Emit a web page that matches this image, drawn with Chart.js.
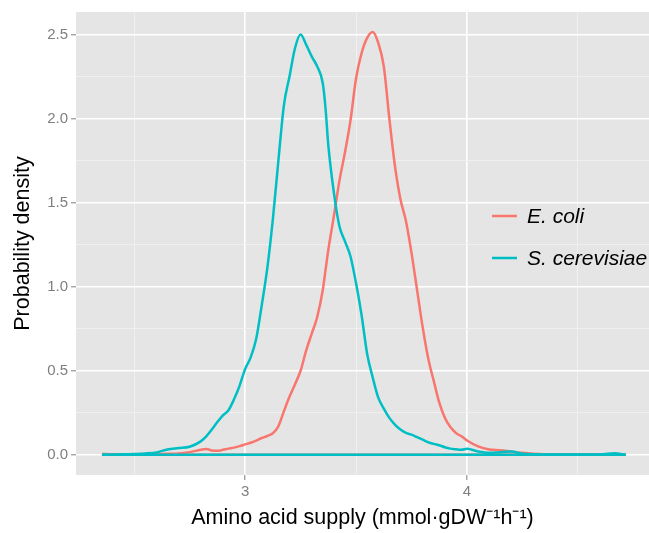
<!DOCTYPE html>
<html>
<head>
<meta charset="utf-8">
<script src="https://cdn.jsdelivr.net/npm/chart.js@4.4.1/dist/chart.umd.min.js"></script>
<style>
  html, body { margin: 0; padding: 0; background: #fff; }
  #wrap { width: 649px; height: 533px; }
</style>
</head>
<body>
<div id="wrap"><canvas id="densityChart"></canvas></div>
<script>
// amino acid supply grid (mmol/gDW/h) and the two density curves
const supplyValues = [
  2.355, 2.40, 2.45, 2.50, 2.55, 2.60, 2.65, 2.70, 2.75, 2.80,
  2.825, 2.85, 2.875, 2.90, 2.925, 2.95, 2.975, 3.00, 3.025, 3.05,
  3.075, 3.10, 3.125, 3.15, 3.175, 3.20, 3.225, 3.25, 3.275, 3.30,
  3.325, 3.35, 3.3625, 3.375, 3.40, 3.425, 3.45, 3.475, 3.50, 3.525, 3.55,
  3.575, 3.60, 3.625, 3.65, 3.675, 3.70, 3.725, 3.75, 3.775, 3.80,
  3.825, 3.85, 3.875, 3.90, 3.925, 3.95, 3.975, 4.00, 4.05, 4.10,
  4.15, 4.20, 4.25, 4.30, 4.35, 4.40, 4.45, 4.50, 4.55, 4.60,
  4.665, 4.715
];

const ecoliDensity = [
  0.005, 0.004, 0.003, 0.003, 0.004, 0.005, 0.006, 0.008, 0.016, 0.030,
  0.035, 0.026, 0.024, 0.030, 0.037, 0.043, 0.052, 0.062, 0.072, 0.085,
  0.100, 0.112, 0.128, 0.170, 0.260, 0.345, 0.420, 0.500, 0.620, 0.720,
  0.820, 0.980, 1.100, 1.220, 1.420, 1.630, 1.800, 1.990, 2.240, 2.390, 2.480,
  2.515, 2.450, 2.310, 2.000, 1.720, 1.520, 1.390, 1.200, 0.980, 0.760,
  0.575, 0.440, 0.310, 0.220, 0.165, 0.130, 0.110, 0.085, 0.050, 0.032,
  0.027, 0.019, 0.012, 0.007, 0.004, 0.003, 0.003, 0.003, 0.003, 0.003,
  0.002, 0.002
];

const yeastDensity = [
  0.000, 0.000, 0.003, 0.005, 0.008, 0.014, 0.032, 0.040, 0.048, 0.080,
  0.110, 0.150, 0.195, 0.235, 0.265, 0.330, 0.410, 0.510, 0.580, 0.690,
  0.890, 1.110, 1.400, 1.750, 2.080, 2.250, 2.420, 2.500, 2.440, 2.370,
  2.310, 2.210, 2.060, 1.840, 1.560, 1.360, 1.270, 1.180, 1.020, 0.830, 0.600,
  0.460, 0.340, 0.275, 0.220, 0.180, 0.150, 0.130, 0.120, 0.105, 0.090,
  0.075, 0.065, 0.057, 0.045, 0.037, 0.033, 0.030, 0.036, 0.020, 0.012,
  0.016, 0.020, 0.007, 0.003, 0.002, 0.002, 0.002, 0.002, 0.002, 0.002,
  0.010, 0.000
];

const seriesNames = ['E. coli', 'S. cerevisiae'];
const seriesColors = ['#F8766D', '#00BFC4'];

const xTicks = [2.5, 3, 3.5, 4, 4.5];
const xTickLabels = ['', '3', '', '4', ''];
const yTicks = [0, 0.25, 0.5, 0.75, 1, 1.25, 1.5, 1.75, 2, 2.25, 2.5];
const yTickLabels = ['0.0', '', '0.5', '', '1.0', '', '1.5', '', '2.0', '', '2.5'];

const toPoints = (ys) => supplyValues.map((x, i) => ({ x: x, y: ys[i] }));
const baseline = () => [
  { x: supplyValues[0], y: 0 },
  { x: supplyValues[supplyValues.length - 1], y: 0 }
];

const isMajor = (ticks, labels, value) => {
  const i = ticks.indexOf(value);
  return i >= 0 && labels[i] !== '';
};

// grey ggplot panel
const panelBackground = {
  id: 'panelBackground',
  beforeDraw(chart) {
    const { ctx, chartArea } = chart;
    ctx.save();
    ctx.fillStyle = '#E5E5E5';
    ctx.fillRect(chartArea.left, chartArea.top, chartArea.right - chartArea.left, chartArea.bottom - chartArea.top);
    ctx.restore();
  }
};

// legend sits on the panel, right side
const insetLegend = {
  id: 'insetLegend',
  afterDatasetsDraw(chart) {
    const { ctx } = chart;
    const keyX = 492, keyW = 25, textX = 527;
    const rowY = [216, 258];
    ctx.save();
    ctx.font = 'italic 21px "Liberation Sans", Arial, sans-serif';
    ctx.textBaseline = 'middle';
    ctx.textAlign = 'left';
    seriesNames.forEach((name, i) => {
      ctx.strokeStyle = seriesColors[i];
      ctx.lineWidth = 2.5;
      ctx.beginPath();
      ctx.moveTo(keyX, rowY[i]);
      ctx.lineTo(keyX + keyW, rowY[i]);
      ctx.stroke();
      ctx.fillStyle = '#000000';
      ctx.fillText(name, textX, rowY[i] + 1);
    });
    ctx.restore();
  }
};

Chart.defaults.font.family = '"Liberation Sans", Arial, sans-serif';

const ctx = document.getElementById('densityChart').getContext('2d');

const densityChart = new Chart(ctx, {
  type: 'line',
  data: {
    datasets: [
      {
        label: seriesNames[1],
        data: toPoints(yeastDensity),
        borderColor: seriesColors[1],
        order: 0
      },
      {
        label: seriesNames[1] + ' base',
        data: baseline(),
        borderColor: seriesColors[1],
        order: 0
      },
      {
        label: seriesNames[0],
        data: toPoints(ecoliDensity),
        borderColor: seriesColors[0],
        order: 1
      },
      {
        label: seriesNames[0] + ' base',
        data: baseline(),
        borderColor: seriesColors[0],
        order: 1
      }
    ]
  },
  options: {
    responsive: true,
    maintainAspectRatio: false,
    animation: false,
    layout: { padding: { top: 6, right: 0, bottom: 0, left: 0 } },
    elements: {
      point: { radius: 0 },
      line: { borderWidth: 2.5, cubicInterpolationMode: 'monotone', fill: false }
    },
    plugins: {
      legend: { display: false },
      tooltip: { enabled: false }
    },
    scales: {
      x: {
        type: 'linear',
        min: 2.238,
        max: 4.82,
        afterBuildTicks(scale) { scale.ticks = xTicks.map(v => ({ value: v })); },
        afterFit(scale) { scale.height = 58; },
        border: { display: false },
        grid: {
          color: c => isMajor(xTicks, xTickLabels, c.tick.value) ? '#FFFFFF' : '#F2F2F2',
          lineWidth: c => isMajor(xTicks, xTickLabels, c.tick.value) ? 1.6 : 0.8,
          tickColor: c => isMajor(xTicks, xTickLabels, c.tick.value) ? '#7F7F7F' : 'rgba(0,0,0,0)',
          tickWidth: 1,
          tickLength: 5
        },
        ticks: {
          color: '#7F7F7F',
          font: { size: 15 },
          padding: 3,
          maxRotation: 0,
          autoSkip: false,
          callback: v => xTickLabels[xTicks.indexOf(v)] ?? ''
        },
        title: {
          display: true,
          text: 'Amino acid supply (mmol·gDW⁻¹h⁻¹)',
          color: '#000000',
          font: { size: 21.5 },
          padding: { top: 0, bottom: 2 }
        }
      },
      y: {
        type: 'linear',
        min: -0.12,
        max: 2.634,
        afterBuildTicks(scale) { scale.ticks = yTicks.map(v => ({ value: v })); },
        afterFit(scale) { scale.width = 76; },
        border: { display: false },
        grid: {
          color: c => isMajor(yTicks, yTickLabels, c.tick.value) ? '#FFFFFF' : '#F2F2F2',
          lineWidth: c => isMajor(yTicks, yTickLabels, c.tick.value) ? 1.6 : 0.8,
          tickColor: c => isMajor(yTicks, yTickLabels, c.tick.value) ? '#7F7F7F' : 'rgba(0,0,0,0)',
          tickWidth: 1,
          tickLength: 5
        },
        ticks: {
          color: '#7F7F7F',
          font: { size: 15 },
          padding: 3,
          autoSkip: false,
          callback: v => yTickLabels[yTicks.indexOf(v)] ?? ''
        },
        title: {
          display: true,
          text: 'Probability density',
          color: '#000000',
          font: { size: 21.5 },
          padding: { top: 10, bottom: 0 }
        }
      }
    }
  },
  plugins: [panelBackground, insetLegend]
});
</script>
</body>
</html>
